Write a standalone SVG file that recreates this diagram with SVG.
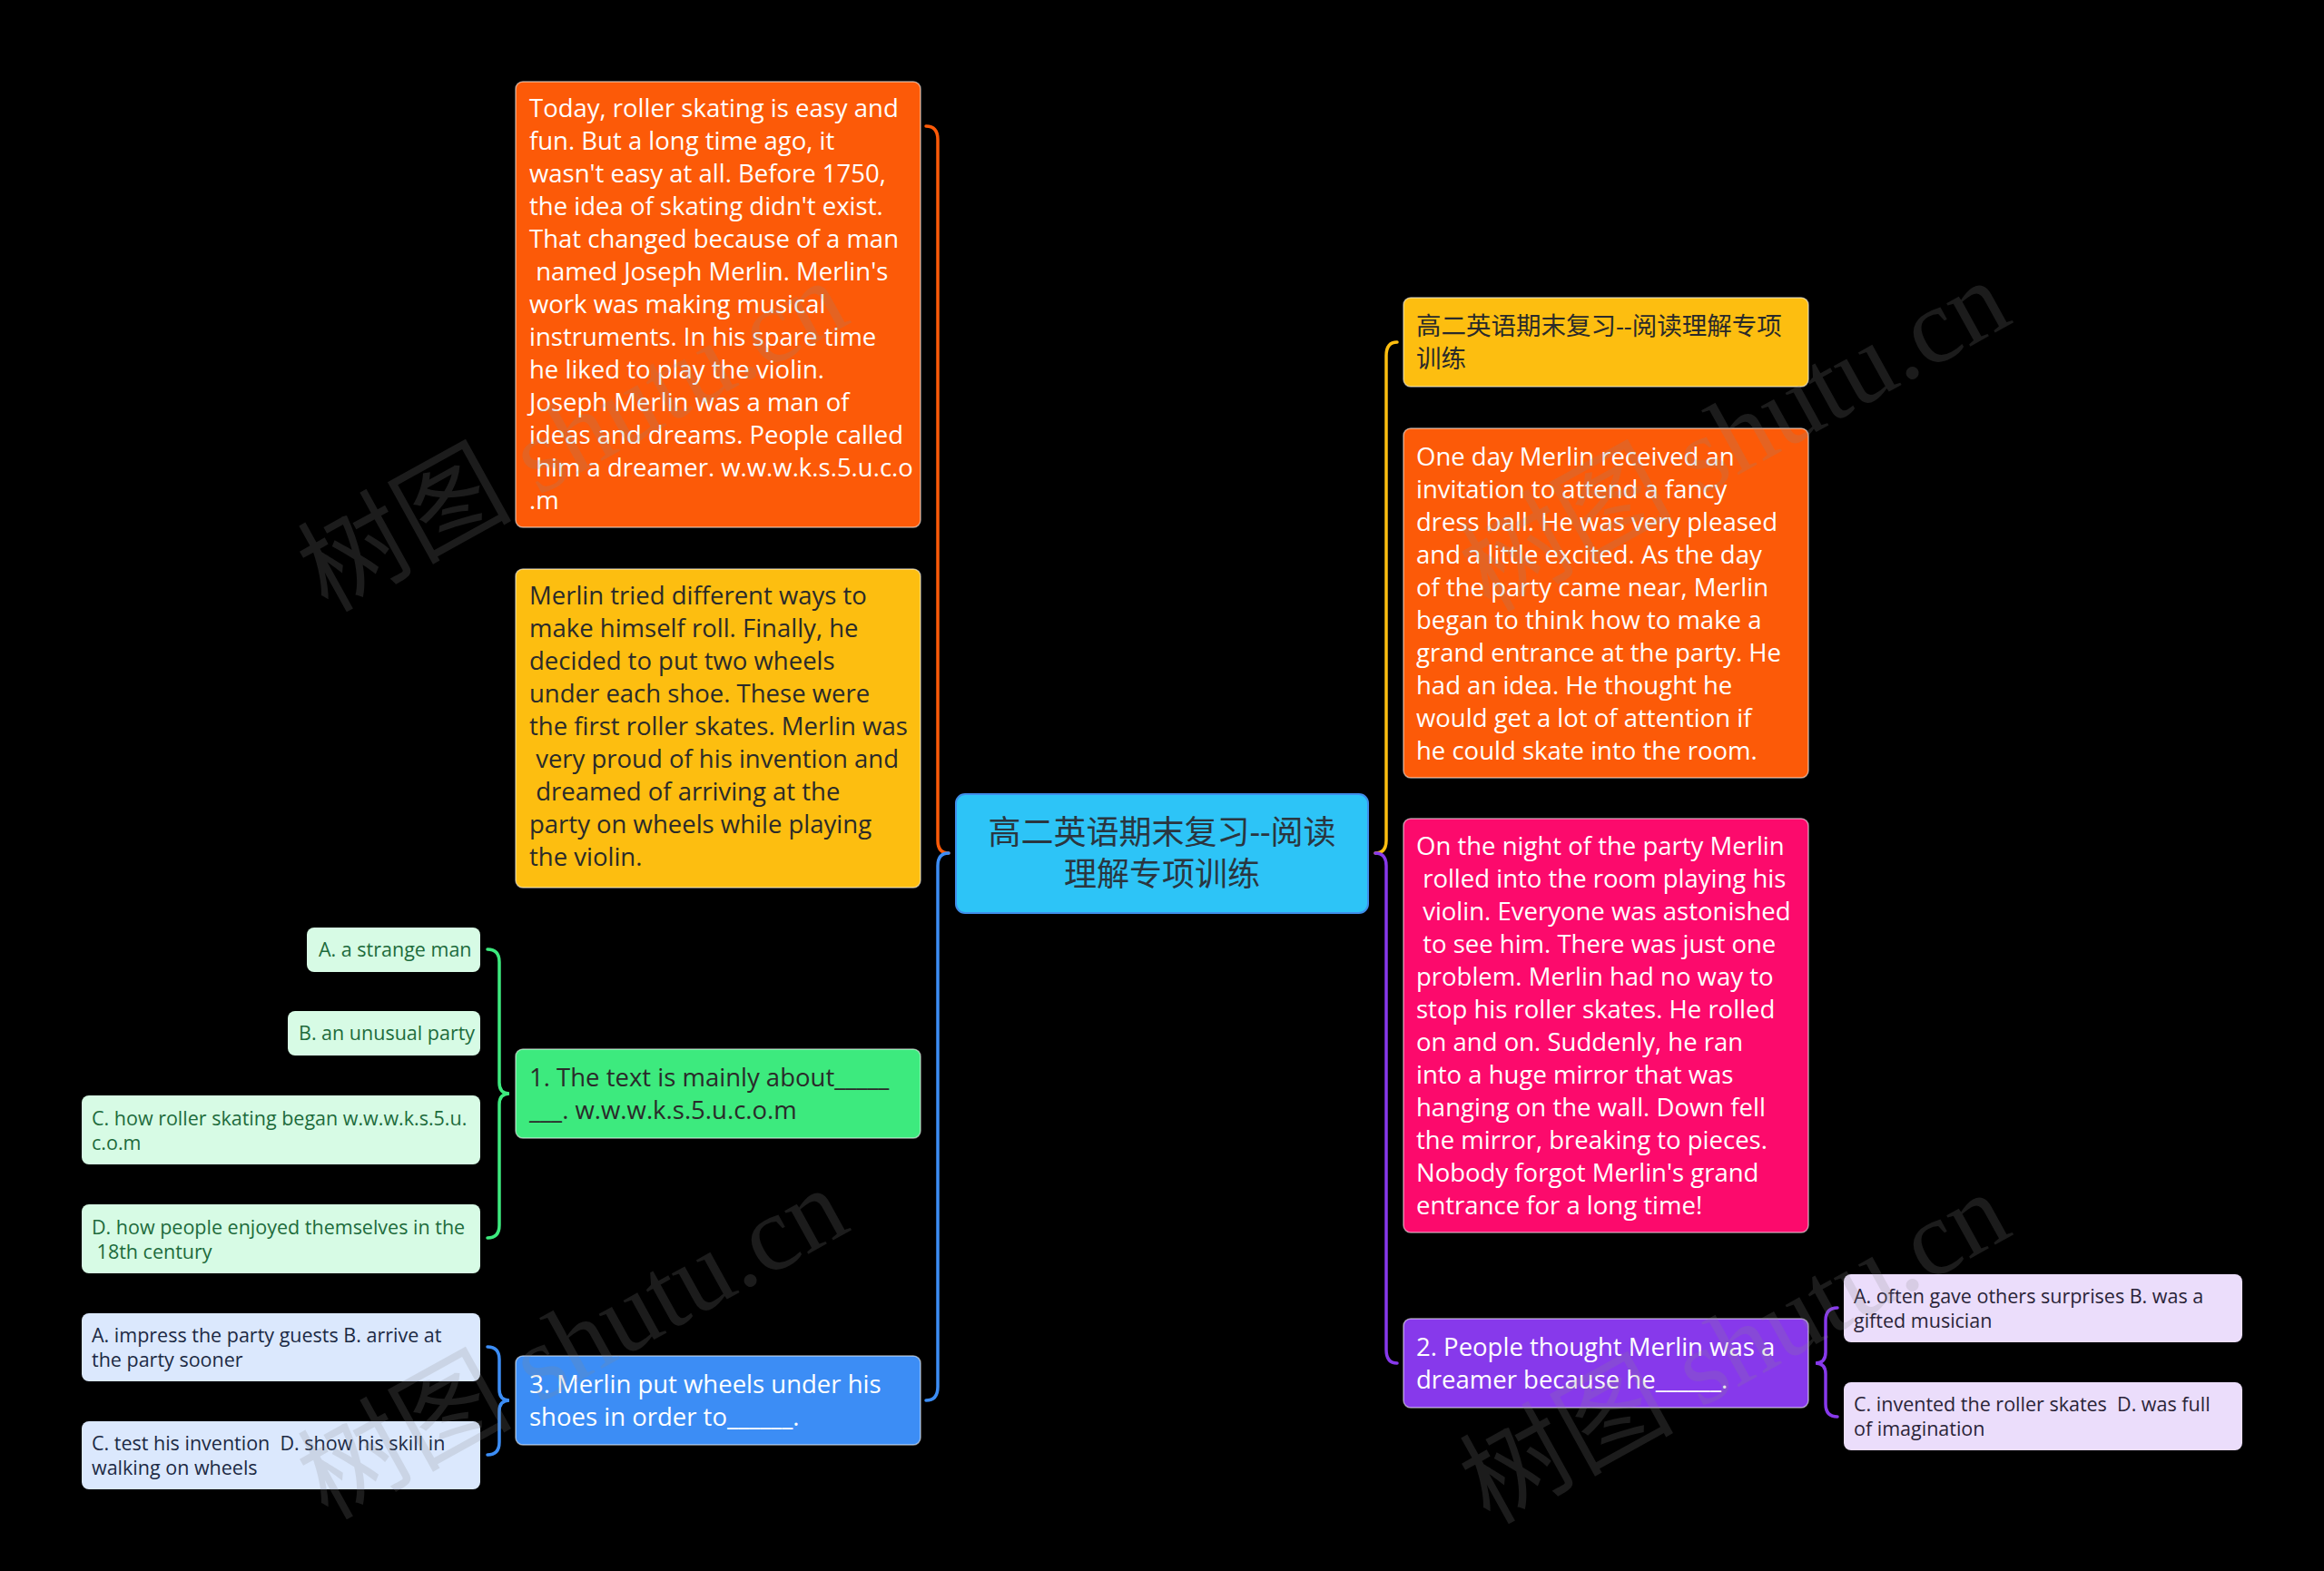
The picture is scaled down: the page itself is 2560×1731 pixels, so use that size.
<svg xmlns="http://www.w3.org/2000/svg" width="2560" height="1731" viewBox="0 0 2560 1731">
<style>
.bg{fill:#000}
.t{font-family:"Open Sans","Noto Sans CJK SC",sans-serif;font-size:27.5px}
.ts{font-family:"Open Sans","Noto Sans CJK SC",sans-serif;font-size:21.5px}
.w{fill:#fff}
.d{fill:#2a2a2a}
.nb{stroke:#fff;stroke-opacity:0.55;stroke-width:1.5}
.conn{fill:none;stroke-width:3.5;stroke-linecap:round}
.wm{font-family:"Liberation Serif","Noto Sans CJK SC",serif;font-size:118px;fill:#8a8a8a;opacity:0.2}
</style>
<rect class="bg" x="0" y="0" width="2560" height="1731"/>

<g id="connectors">
  <path class="conn" stroke="#FC5A08" d="M1045,940 C1037,940 1033,935 1033,926 L1033,154 Q1033,139 1020,139"/>
  <path class="conn" stroke="#3C8DF5" d="M1045,940 C1037,940 1033,945 1033,954 L1033,1528 Q1033,1543 1020,1543"/>
  <path class="conn" stroke="#FDBE10" d="M1515,940 C1523,940 1527,935 1527,926 L1527,392 Q1527,377 1539,377"/>
  <path class="conn" stroke="#8739EB" d="M1515,940 C1523,940 1527,945 1527,954 L1527,1487 Q1527,1502 1539,1502"/>
  <path class="conn" stroke="#3DEA7E" d="M537,1046 Q550,1046 550,1060 L550,1193 Q550,1205 561,1205 Q550,1205 550,1217 L550,1350 Q550,1364 537,1364"/>
  <path class="conn" stroke="#3C8DF5" d="M537,1484 Q550,1484 550,1498 L550,1531 Q550,1543 561,1543 Q550,1543 550,1555 L550,1589 Q550,1603 537,1603"/>
  <path class="conn" stroke="#8739EB" d="M2024,1441 Q2011,1441 2011,1455 L2011,1490 Q2011,1502 2000,1502 Q2011,1502 2011,1514 L2011,1547 Q2011,1561 2024,1561"/>
</g>

<g id="center">
  <rect x="1053" y="875" width="454" height="131" rx="10" fill="#2DC4F7" stroke="#3F8EEB" stroke-width="2"/>
  <text class="t" x="1280" y="930" text-anchor="middle" style="font-size:36px" fill="#2a3640">高二英语期末复习--阅读</text>
  <text class="t" x="1280" y="976" text-anchor="middle" style="font-size:36px" fill="#2a3640">理解专项训练</text>
</g>

<g id="node-l1">
  <rect class="nb" x="568" y="90" width="446" height="491" rx="8" fill="#FC5A08"/>
  <text class="t w" x="583" y="129" xml:space="preserve">Today, roller skating is easy and</text>
  <text class="t w" x="583" y="165" xml:space="preserve">fun. But a long time ago, it</text>
  <text class="t w" x="583" y="201" xml:space="preserve">wasn't easy at all. Before 1750,</text>
  <text class="t w" x="583" y="237" xml:space="preserve">the idea of skating didn't exist.</text>
  <text class="t w" x="583" y="273" xml:space="preserve">That changed because of a man</text>
  <text class="t w" x="583" y="309" xml:space="preserve"> named Joseph Merlin. Merlin's</text>
  <text class="t w" x="583" y="345" xml:space="preserve">work was making musical</text>
  <text class="t w" x="583" y="381" xml:space="preserve">instruments. In his spare time</text>
  <text class="t w" x="583" y="417" xml:space="preserve">he liked to play the violin.</text>
  <text class="t w" x="583" y="453" xml:space="preserve">Joseph Merlin was a man of</text>
  <text class="t w" x="583" y="489" xml:space="preserve">ideas and dreams. People called</text>
  <text class="t w" x="583" y="525" xml:space="preserve"> him a dreamer. w.w.w.k.s.5.u.c.o</text>
  <text class="t w" x="583" y="561" xml:space="preserve">.m</text>
</g>

<g id="node-l2">
  <rect class="nb" x="568" y="627" width="446" height="351" rx="8" fill="#FDBE10"/>
  <text class="t d" x="583" y="666" xml:space="preserve">Merlin tried different ways to</text>
  <text class="t d" x="583" y="702" xml:space="preserve">make himself roll. Finally, he</text>
  <text class="t d" x="583" y="738" xml:space="preserve">decided to put two wheels</text>
  <text class="t d" x="583" y="774" xml:space="preserve">under each shoe. These were</text>
  <text class="t d" x="583" y="810" xml:space="preserve">the first roller skates. Merlin was</text>
  <text class="t d" x="583" y="846" xml:space="preserve"> very proud of his invention and</text>
  <text class="t d" x="583" y="882" xml:space="preserve"> dreamed of arriving at the</text>
  <text class="t d" x="583" y="918" xml:space="preserve">party on wheels while playing</text>
  <text class="t d" x="583" y="954" xml:space="preserve">the violin.</text>
</g>

<g id="node-q1">
  <rect class="nb" x="568" y="1156" width="446" height="98" rx="8" fill="#3DEA7E"/>
  <text class="t d" x="583" y="1197" xml:space="preserve">1. The text is mainly about_____</text>
  <text class="t d" x="583" y="1233" xml:space="preserve">___. w.w.w.k.s.5.u.c.o.m</text>
</g>

<g id="node-q1a">
  <rect x="338" y="1022" width="191" height="49" rx="8" fill="#D7FBE5"/>
  <text class="ts" x="351" y="1054" fill="#1D6B3C">A. a strange man</text>
</g>
<g id="node-q1b">
  <rect x="317" y="1114" width="212" height="49" rx="8" fill="#D7FBE5"/>
  <text class="ts" x="329" y="1146" fill="#1D6B3C">B. an unusual party</text>
</g>
<g id="node-q1c">
  <rect x="90" y="1207" width="439" height="76" rx="8" fill="#D7FBE5"/>
  <text class="ts" x="101" y="1240" fill="#1D6B3C" xml:space="preserve">C. how roller skating began w.w.w.k.s.5.u.</text>
  <text class="ts" x="101" y="1267" fill="#1D6B3C" xml:space="preserve">c.o.m</text>
</g>
<g id="node-q1d">
  <rect x="90" y="1327" width="439" height="76" rx="8" fill="#D7FBE5"/>
  <text class="ts" x="101" y="1360" fill="#1D6B3C" xml:space="preserve">D. how people enjoyed themselves in the</text>
  <text class="ts" x="101" y="1387" fill="#1D6B3C" xml:space="preserve"> 18th century</text>
</g>

<g id="node-q3">
  <rect class="nb" x="568" y="1494" width="446" height="98" rx="8" fill="#3C8DF5"/>
  <text class="t w" x="583" y="1535" xml:space="preserve">3. Merlin put wheels under his</text>
  <text class="t w" x="583" y="1571" xml:space="preserve">shoes in order to______.</text>
</g>
<g id="node-q3a">
  <rect x="90" y="1447" width="439" height="75" rx="8" fill="#DBE8FD"/>
  <text class="ts" x="101" y="1479" fill="#1C2A44" xml:space="preserve">A. impress the party guests B. arrive at</text>
  <text class="ts" x="101" y="1506" fill="#1C2A44" xml:space="preserve">the party sooner</text>
</g>
<g id="node-q3c">
  <rect x="90" y="1566" width="439" height="75" rx="8" fill="#DBE8FD"/>
  <text class="ts" x="101" y="1598" fill="#1C2A44" xml:space="preserve">C. test his invention  D. show his skill in</text>
  <text class="ts" x="101" y="1625" fill="#1C2A44" xml:space="preserve">walking on wheels</text>
</g>

<g id="node-r1">
  <rect class="nb" x="1546" y="328" width="446" height="98" rx="8" fill="#FDBE10"/>
  <text class="t d" x="1560" y="369">高二英语期末复习--阅读理解专项</text>
  <text class="t d" x="1560" y="405">训练</text>
</g>

<g id="node-r2">
  <rect class="nb" x="1546" y="472" width="446" height="385" rx="8" fill="#FC5A08"/>
  <text class="t w" x="1560" y="513" xml:space="preserve">One day Merlin received an</text>
  <text class="t w" x="1560" y="549" xml:space="preserve">invitation to attend a fancy</text>
  <text class="t w" x="1560" y="585" xml:space="preserve">dress ball. He was very pleased</text>
  <text class="t w" x="1560" y="621" xml:space="preserve">and a little excited. As the day</text>
  <text class="t w" x="1560" y="657" xml:space="preserve">of the party came near, Merlin</text>
  <text class="t w" x="1560" y="693" xml:space="preserve">began to think how to make a</text>
  <text class="t w" x="1560" y="729" xml:space="preserve">grand entrance at the party. He</text>
  <text class="t w" x="1560" y="765" xml:space="preserve">had an idea. He thought he</text>
  <text class="t w" x="1560" y="801" xml:space="preserve">would get a lot of attention if</text>
  <text class="t w" x="1560" y="837" xml:space="preserve">he could skate into the room.</text>
</g>

<g id="node-r3">
  <rect class="nb" x="1546" y="902" width="446" height="456" rx="8" fill="#FC0A6C"/>
  <text class="t w" x="1560" y="942" xml:space="preserve">On the night of the party Merlin</text>
  <text class="t w" x="1560" y="978" xml:space="preserve"> rolled into the room playing his</text>
  <text class="t w" x="1560" y="1014" xml:space="preserve"> violin. Everyone was astonished</text>
  <text class="t w" x="1560" y="1050" xml:space="preserve"> to see him. There was just one</text>
  <text class="t w" x="1560" y="1086" xml:space="preserve">problem. Merlin had no way to</text>
  <text class="t w" x="1560" y="1122" xml:space="preserve">stop his roller skates. He rolled</text>
  <text class="t w" x="1560" y="1158" xml:space="preserve">on and on. Suddenly, he ran</text>
  <text class="t w" x="1560" y="1194" xml:space="preserve">into a huge mirror that was</text>
  <text class="t w" x="1560" y="1230" xml:space="preserve">hanging on the wall. Down fell</text>
  <text class="t w" x="1560" y="1266" xml:space="preserve">the mirror, breaking to pieces.</text>
  <text class="t w" x="1560" y="1302" xml:space="preserve">Nobody forgot Merlin's grand</text>
  <text class="t w" x="1560" y="1338" xml:space="preserve">entrance for a long time!</text>
</g>

<g id="node-q2">
  <rect class="nb" x="1546" y="1453" width="446" height="98" rx="8" fill="#8739EB"/>
  <text class="t w" x="1560" y="1494" xml:space="preserve">2. People thought Merlin was a</text>
  <text class="t w" x="1560" y="1530" xml:space="preserve">dreamer because he______.</text>
</g>
<g id="node-q2a">
  <rect x="2031" y="1404" width="439" height="75" rx="8" fill="#EBDDFB"/>
  <text class="ts" x="2042" y="1436" fill="#2a2438" xml:space="preserve">A. often gave others surprises B. was a</text>
  <text class="ts" x="2042" y="1463" fill="#2a2438" xml:space="preserve">gifted musician</text>
</g>
<g id="node-q2c">
  <rect x="2031" y="1523" width="439" height="75" rx="8" fill="#EBDDFB"/>
  <text class="ts" x="2042" y="1555" fill="#2a2438" xml:space="preserve">C. invented the roller skates  D. was full</text>
  <text class="ts" x="2042" y="1582" fill="#2a2438" xml:space="preserve">of imagination</text>
</g>

<g id="watermarks">
  <text class="wm" transform="translate(650,515) rotate(-29)" text-anchor="middle">树图 shutu.cn</text>
  <text class="wm" transform="translate(650,1515) rotate(-29)" text-anchor="middle">树图 shutu.cn</text>
  <text class="wm" transform="translate(1930,515) rotate(-29)" text-anchor="middle">树图 shutu.cn</text>
  <text class="wm" transform="translate(1930,1520) rotate(-29)" text-anchor="middle">树图 shutu.cn</text>
</g>
</svg>
